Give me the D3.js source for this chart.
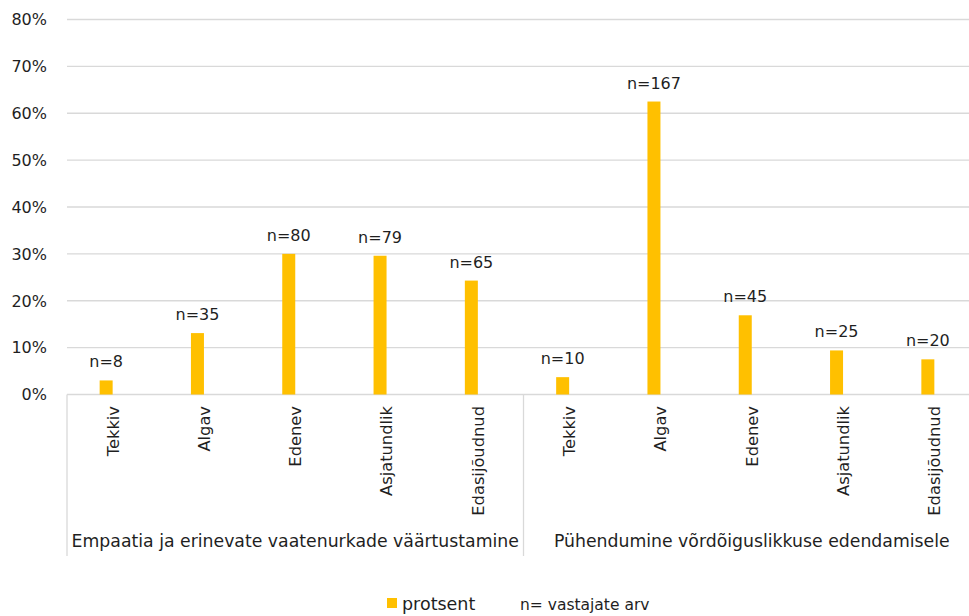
<!DOCTYPE html>
<html>
<head>
<meta charset="utf-8">
<script src="https://cdn.jsdelivr.net/npm/d3@7"></script>
<style>
  body { margin: 0; background: #fff; }
  svg { display: block; font-family: 'DejaVu Sans', sans-serif; }
</style>
</head>
<body>
<div id="hook-chart"></div>
<script>
'use strict';

// data
var groups = ['Empaatia ja erinevate vaatenurkade väärtustamine', 'Pühendumine võrdõiguslikkuse edendamisele'];
var levels = ['Tekkiv', 'Algav', 'Edenev', 'Asjatundlik', 'Edasijõudnud'];
var protsent = [
  [3.0, 13.1, 30.0, 29.6, 24.3],
  [3.7, 62.5, 16.9, 9.4, 7.5]
];
var vastajad = [
  [8, 35, 80, 79, 65],
  [10, 167, 45, 25, 20]
];
var yTicks = [0, 10, 20, 30, 40, 50, 60, 70, 80];
var legendLabels = ['protsent', 'n= vastajate arv'];

var options = {
  width: 969,
  height: 616,
  left: 67,
  right: 980,
  top: 19.5,
  bottom: 394.5,
  barWidth: 13,
  color: '#FFC000',
  grid: '#d9d9d9',
  text: '#1f1f1f'
};

function update(options) {
  var svg = d3.select('#hook-chart')
    .append('svg')
    .attr('width', options.width)
    .attr('height', options.height);

  var rows = [];
  groups.forEach(function(g, gi) {
    levels.forEach(function(l, li) {
      rows.push({ key: gi + '-' + li, group: gi, level: l, value: protsent[gi][li], n: vastajad[gi][li] });
    });
  });

  var x = d3.scaleBand()
    .domain(rows.map(function(d) { return d.key; }))
    .range([options.left, options.right])
    .padding(0);

  var y = d3.scaleLinear()
    .domain([0, 80])
    .range([options.bottom, options.top]);

  // gridlines
  svg.append('g')
    .selectAll('line')
    .data(yTicks)
    .enter().append('line')
    .attr('x1', options.left)
    .attr('x2', options.right)
    .attr('y1', function(d) { return y(d); })
    .attr('y2', function(d) { return y(d); })
    .style('stroke', options.grid)
    .style('stroke-width', 1.3);

  // y tick labels
  svg.append('g')
    .selectAll('text')
    .data(yTicks)
    .enter().append('text')
    .attr('x', 47)
    .attr('y', function(d) { return y(d); })
    .attr('dy', '0.36em')
    .attr('text-anchor', 'end')
    .style('font-size', '16px')
    .style('fill', options.text)
    .text(function(d) { return d + '%'; });

  // category axis separators
  var seps = [0, 5, 10].map(function(i) {
    return i < rows.length ? x(rows[i].key) : options.right;
  });
  svg.append('g')
    .selectAll('line')
    .data(seps)
    .enter().append('line')
    .attr('x1', function(d) { return d; })
    .attr('x2', function(d) { return d; })
    .attr('y1', options.bottom)
    .attr('y2', 556)
    .style('stroke', options.grid)
    .style('stroke-width', 1.3);

  // bars
  svg.append('g')
    .selectAll('rect')
    .data(rows)
    .enter().append('rect')
    .attr('x', function(d) { return x(d.key) + x.bandwidth() / 2 - options.barWidth; })
    .attr('y', function(d) { return y(d.value); })
    .attr('width', options.barWidth)
    .attr('height', function(d) { return y(0) - y(d.value); })
    .style('fill', options.color);

  // n labels
  svg.append('g')
    .selectAll('text')
    .data(rows)
    .enter().append('text')
    .attr('x', function(d) { return x(d.key) + x.bandwidth() / 2 - options.barWidth / 2; })
    .attr('y', function(d) { return y(d.value) - 13; })
    .attr('text-anchor', 'middle')
    .style('font-size', '16px')
    .style('fill', options.text)
    .text(function(d) { return 'n=' + d.n; });

  // level labels, rotated
  svg.append('g')
    .selectAll('text')
    .data(rows)
    .enter().append('text')
    .attr('transform', function(d) {
      return 'translate(' + (x(d.key) + x.bandwidth() / 2) + ',406) rotate(-90)';
    })
    .attr('dy', '0.36em')
    .attr('text-anchor', 'end')
    .style('font-size', '16.3px')
    .style('fill', options.text)
    .text(function(d) { return d.level; });

  // group labels
  svg.append('g')
    .selectAll('text')
    .data(groups)
    .enter().append('text')
    .attr('x', function(d, i) { return (seps[i] + seps[i + 1]) / 2; })
    .attr('y', 547)
    .attr('text-anchor', 'middle')
    .style('font-size', '17.3px')
    .style('fill', options.text)
    .text(function(d) { return d; });

  // legend
  var legend = svg.append('g');
  legend.append('rect')
    .attr('x', 387)
    .attr('y', 598)
    .attr('width', 10)
    .attr('height', 10)
    .style('fill', options.color);
  legend.selectAll('text')
    .data(legendLabels)
    .enter().append('text')
    .attr('x', function(d, i) { return i === 0 ? 402 : 520; })
    .attr('y', 610)
    .style('font-size', function(d, i) { return i === 0 ? '17.5px' : '15.5px'; })
    .style('fill', options.text)
    .text(function(d) { return d; });
}

update(options);
</script>
</body>
</html>
